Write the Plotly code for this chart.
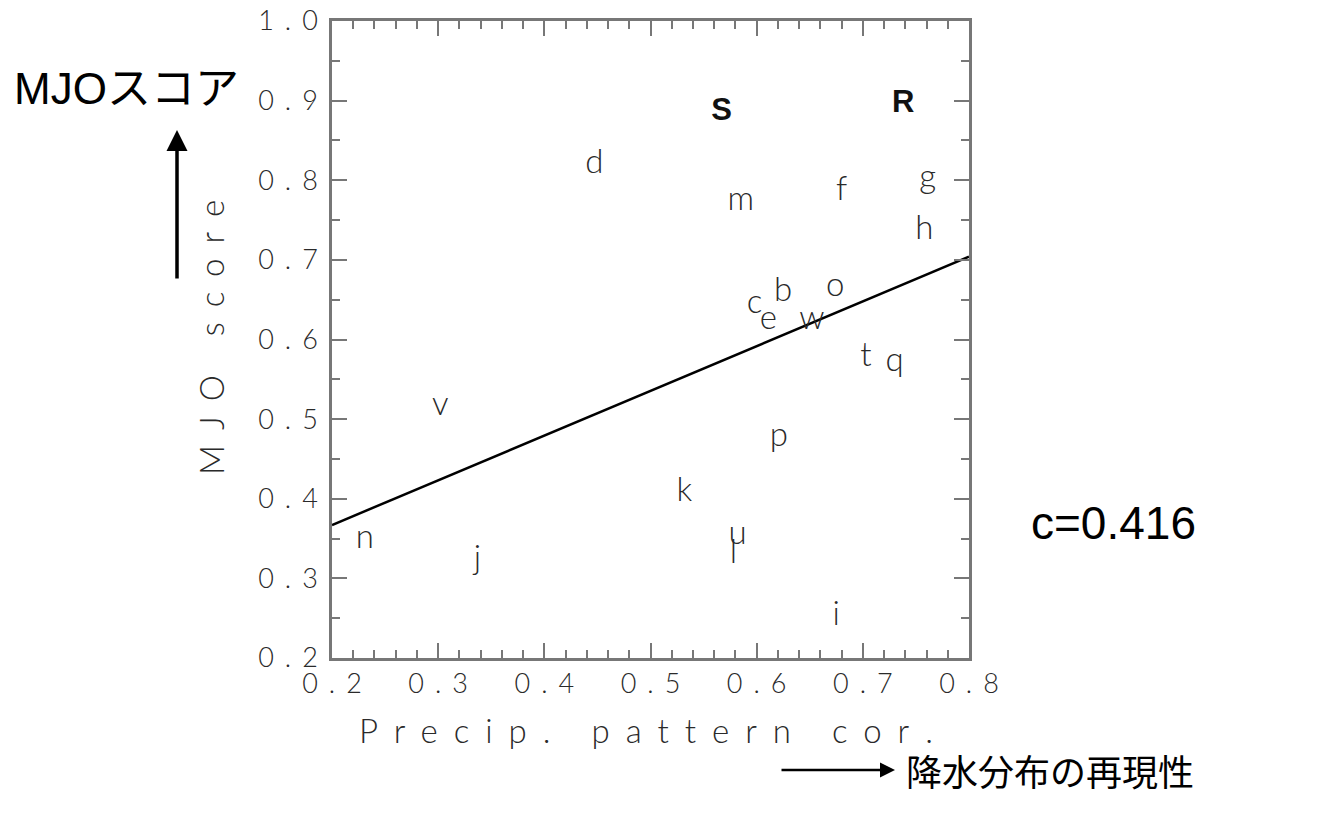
import plotly.graph_objects as go

# ---- data ----
labels = ["d", "m", "f", "g", "h", "v", "c", "e", "b", "o", "w", "t", "q", "p", "k", "u", "l", "i", "n", "j"]
precip_cor = [0.447, 0.585, 0.680, 0.761, 0.758, 0.302, 0.598, 0.611, 0.625, 0.674, 0.652, 0.703, 0.730, 0.621, 0.532, 0.582, 0.578, 0.675, 0.231, 0.337]
mjo_score = [0.820, 0.773, 0.785, 0.801, 0.736, 0.516, 0.644, 0.623, 0.659, 0.665, 0.623, 0.577, 0.571, 0.477, 0.408, 0.353, 0.330, 0.252, 0.349, 0.322]

group_labels = ["S", "R"]
group_x = [0.567, 0.738]
group_y = [0.885, 0.895]

fit_x = [0.2, 0.8]
fit_y = [0.367, 0.704]

x_ticks = [0.2, 0.3, 0.4, 0.5, 0.6, 0.7, 0.8]
y_ticks = [0.2, 0.3, 0.4, 0.5, 0.6, 0.7, 0.8, 0.9, 1.0]
corr_text = "c=0.416"

GR_FONT = "Lato"
GR_COLOR = "#2a2a2a"
TICK_SP = 11


def spaced(s, sp):
    return "<span style='letter-spacing:%dpx'>%s</span>%s" % (sp, s[:-1], s[-1])


x_ticktext = [spaced("%.1f" % v, TICK_SP) for v in x_ticks]
y_ticktext = [spaced("%.1f" % v, TICK_SP) for v in y_ticks]

fig = go.Figure()

fig.add_trace(go.Scatter(
    x=fit_x, y=fit_y, mode="lines",
    line=dict(color="black", width=2.5),
    hoverinfo="skip", showlegend=False,
))

fig.add_trace(go.Scatter(
    x=precip_cor, y=mjo_score, mode="text", text=labels,
    textposition="middle center",
    textfont=dict(family=GR_FONT, size=33, color=GR_COLOR, weight=300),
    showlegend=False,
))

fig.add_trace(go.Scatter(
    x=group_x, y=group_y, mode="text", text=group_labels,
    textposition="middle center",
    textfont=dict(family="Liberation Sans", size=31, color="#111111", weight="bold"),
    showlegend=False,
))

axis_common = dict(
    showline=True, linecolor="#777777", linewidth=2.5, mirror="ticks",
    ticks="inside", ticklen=15, tickwidth=2, tickcolor="#777777",
    showgrid=False, zeroline=False,
    tickfont=dict(family=GR_FONT, size=27, color=GR_COLOR, weight=300),
)

fig.update_xaxes(
    range=[0.2, 0.8], tickvals=x_ticks, ticktext=x_ticktext,
    minor=dict(dtick=0.02, ticks="inside", ticklen=8, tickwidth=1.5, tickcolor="#777777"),
    **axis_common,
)
fig.update_yaxes(
    range=[0.2, 1.0], tickvals=y_ticks, ticktext=y_ticktext,
    minor=dict(dtick=0.05, ticks="inside", ticklen=8, tickwidth=1.5, tickcolor="#777777"),
    ticklabelstandoff=6,
    **axis_common,
)

L, R, T, B = 332, 354, 21, 157
W = 1323 - L - R
H = 815 - T - B


def px(xp):
    return (xp - L) / W


def py(yp):
    return (815 - B - yp) / H


annotations = [
    # axis titles (GrADS-like, letter spaced)
    dict(text=spaced("Precip. pattern cor.", 16), x=px(646), y=py(730), xref="paper", yref="paper",
         showarrow=False, xanchor="center", yanchor="middle",
         font=dict(family=GR_FONT, size=33, color=GR_COLOR, weight=300)),
    dict(text=spaced("MJO score", 15), x=px(211), y=py(338), xref="paper", yref="paper",
         showarrow=False, xanchor="center", yanchor="middle", textangle=-90,
         font=dict(family=GR_FONT, size=33, color=GR_COLOR, weight=300)),
    # Japanese explanatory labels
    dict(text="MJOスコア", x=px(126), y=py(88), xref="paper", yref="paper",
         showarrow=False, xanchor="center", yanchor="middle",
         font=dict(family="Liberation Sans, Noto Sans CJK JP", size=44, color="black")),
    dict(text="降水分布の再現性", x=px(1050), y=py(770), xref="paper", yref="paper",
         showarrow=False, xanchor="center", yanchor="middle",
         font=dict(family="Noto Sans CJK JP", size=36, color="black")),
    dict(text=corr_text, x=px(1113), y=py(523), xref="paper", yref="paper",
         showarrow=False, xanchor="center", yanchor="middle",
         font=dict(family="Liberation Sans", size=46, color="black")),
    # arrows
    dict(text="", x=px(177), y=py(130), xref="paper", yref="paper",
         showarrow=True, ax=0, ay=150, arrowhead=2, arrowsize=1.2, arrowwidth=3.5, arrowcolor="black"),
    dict(text="", x=px(895), y=py(770), xref="paper", yref="paper",
         showarrow=True, ax=-115, ay=0, arrowhead=2, arrowsize=1.2, arrowwidth=2.5, arrowcolor="black"),
]

fig.update_layout(
    width=1323, height=815,
    margin=dict(l=L, r=R, t=T, b=B, autoexpand=False),
    plot_bgcolor="white", paper_bgcolor="white",
    showlegend=False,
    annotations=annotations,
)

fig.write_html("out.html")
